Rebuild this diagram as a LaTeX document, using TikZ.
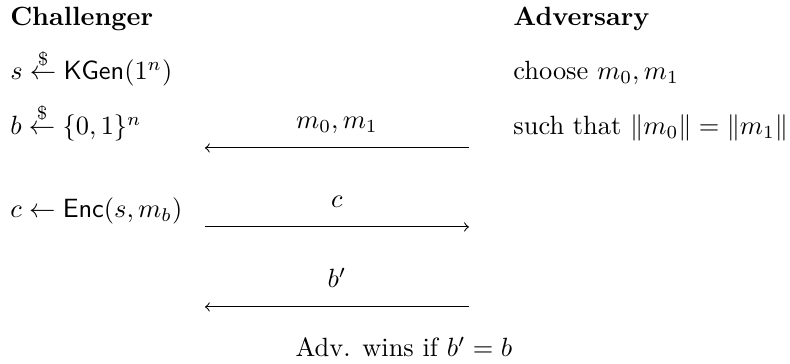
\documentclass[tikz,border=0pt]{standalone}
\usepackage{tikz}
\usepackage{amsmath}
\usetikzlibrary{positioning}

\tikzset{
    party/.style={anchor=base west, inner sep=0pt},
    msg/.style={anchor=base, inner sep=0pt, yshift=7.2pt},
}

\begin{document}
\begin{tikzpicture}
            \useasboundingbox (0,0) rectangle (10.52,-4.846);

            % Challenger
            \node[party] (ch) at (0.13,-0.346) {\textbf{Challenger}};
            \node[party] (keygen) at (0.13,-1.065) {$s \stackrel{\$}{\leftarrow} \mathsf{KGen}(1^n)$};
            \node[party] (coin) at (0.13,-1.797) {$b \stackrel{\$}{\leftarrow} \{0,1\}^n$};
            \node[party] (enc) at (0.13,-2.902) {$c \leftarrow \mathsf{Enc}(s, m_b)$};

            % Adversary
            \node[party] (adv) at (6.83,-0.346) {\textbf{Adversary}};
            \node[party] (choose) at (6.83,-1.065) {choose $m_0, m_1$};
            \node[party] (len) at (6.83,-1.797) {such that $\|m_0\| = \|m_1\|$};

            % messages
            \coordinate (l1) at (2.73,-1.970);
            \coordinate (r1) at (6.244,-1.970);
            \coordinate (l2) at (2.73,-3.022);
            \coordinate (r2) at (6.244,-3.022);
            \coordinate (l3) at (2.73,-4.087);
            \coordinate (r3) at (6.244,-4.087);

            \draw[<-] (l1) -- node[msg] (msg1) {$m_0, m_1$} (r1);
            \draw[->] (l2) -- node[msg] (msg2) {$c$} (r2);
            \draw[<-] (l3) -- node[msg] (msg3) {$b'$} (r3);

            \node[anchor=base] (win) at (5.378,-4.753) {Adv. wins if $b' = b$};
        \end{tikzpicture}
\end{document}
